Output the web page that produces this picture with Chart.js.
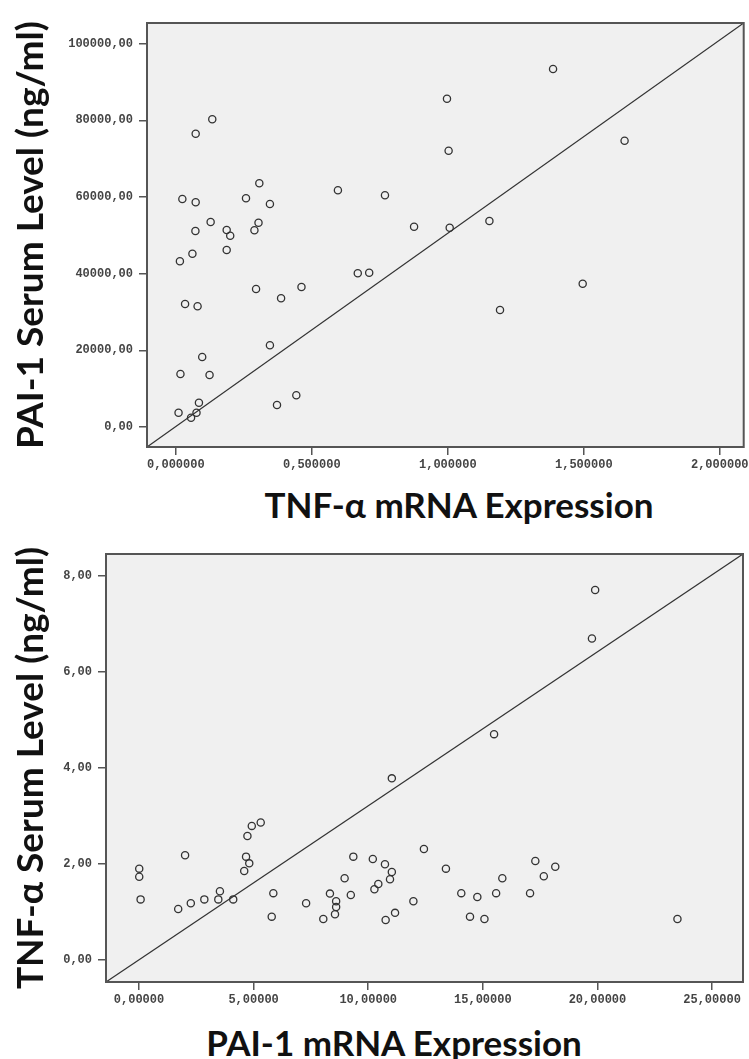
<!DOCTYPE html>
<html lang="en">
<head>
<meta charset="UTF-8">
<title>PAI-1 / TNF-α scatter plots</title>
<script src="https://cdn.jsdelivr.net/npm/chart.js"></script>
<style>
    html, body {
        margin: 0;
        padding: 0;
        background: #fff;
        overflow: hidden;
    }
    .wrap {
        position: absolute;
        left: 0;
    }
    .ttl {
        position: absolute;
        white-space: nowrap;
        font-family: "Lato", "Open Sans", sans-serif;
        font-weight: bold;
        line-height: 1;
        color: #111;
        transform: translate(-50%, -50%);
    }
    .ttl.rot {
        transform: translate(-50%, -50%) rotate(-90deg);
    }
</style>
</head>
<body>
<div class="wrap" style="top:0"><canvas id="top" width="749" height="470"></canvas></div>
<div class="wrap" style="top:530px"><canvas id="bottom" width="749" height="475"></canvas></div>

<div class="ttl rot" style="left:28px; top:235px; font-size:37px">PAI-1 Serum Level (ng/ml)</div>
<div class="ttl" style="left:459px; top:504px; font-size:35px">TNF-α mRNA Expression</div>
<div class="ttl rot" style="left:28px; top:768px; font-size:37px">TNF-α Serum Level (ng/ml)</div>
<div class="ttl" style="left:394px; top:1042px; font-size:35px">PAI-1 mRNA Expression</div>

<script>
// top plot: TNF-a mRNA expression (x) vs PAI-1 serum level (y)
const tnfExpr = [0.134, 0.073, 0.307, 0.024, 0.073, 0.258, 0.346, 0.596, 0.769, 0.128, 0.072,
    0.187, 0.200, 0.289, 0.304, 0.187, 0.015, 0.061, 0.034, 0.080, 0.295, 0.387, 0.462, 0.669,
    0.711, 0.346, 0.097, 0.017, 0.124, 0.085, 0.010, 0.076, 0.056, 0.372, 0.443, 1.387, 0.997,
    1.003, 1.650, 0.876, 1.007, 1.153, 1.192, 1.496];
const pai1Serum = [80250, 76490, 63560, 59460, 58600, 59650, 58160, 61730, 60430, 53460, 51120,
    51380, 49890, 51300, 53280, 46160, 43220, 45200, 32080, 31480, 35990, 33570, 36510, 40090,
    40240, 21310, 18260, 13820, 13560, 6340, 3730, 3730, 2430, 5740, 8270, 93370, 85620,
    72060, 74670, 52240, 51980, 53730, 30510, 37370];
const topXTicks = [0, 0.5, 1, 1.5, 2];
const topYTicks = [0, 20000, 40000, 60000, 80000, 100000];
const topXRange = [-0.106, 2.088];
const topYRange = [-5216, 105363];

// bottom plot: PAI-1 mRNA expression (x) vs TNF-a serum level (y)
const pai1Expr = [0.01, 0.01, 0.07, 2.01, 1.71, 2.26, 2.85, 3.53, 3.46, 4.11, 4.67, 4.59, 4.81,
    4.73, 4.92, 5.31, 5.86, 5.79, 7.29, 8.04, 8.55, 8.33, 8.60, 8.60, 8.97, 9.24, 9.35, 10.20,
    10.27, 10.44, 10.73, 11.03, 10.95, 10.76, 11.17, 11.03, 15.49, 12.43, 13.39, 11.97, 14.06,
    14.76, 14.44, 15.07, 15.58, 15.85, 17.06, 17.29, 17.66, 18.16, 23.49, 19.90, 19.76];
const tnfSerum = [1.90, 1.73, 1.26, 2.18, 1.06, 1.18, 1.26, 1.43, 1.26, 1.26, 2.15, 1.85, 2.01,
    2.58, 2.79, 2.86, 1.39, 0.90, 1.18, 0.85, 0.95, 1.38, 1.22, 1.10, 1.70, 1.35, 2.15, 2.10,
    1.47, 1.58, 1.99, 1.83, 1.68, 0.83, 0.98, 3.78, 4.70, 2.31, 1.90, 1.22, 1.39, 1.31, 0.90,
    0.85, 1.39, 1.70, 1.39, 2.06, 1.74, 1.94, 0.85, 7.70, 6.69];
const botXTicks = [0, 5, 10, 15, 20, 25];
const botYTicks = [0, 2, 4, 6, 8];
const botXRange = [-1.44, 26.35];
const botYRange = [-0.46, 8.45];

// grey plot background + dark frame, like the SPSS output
const framePlugin = {
    id: 'frame',
    beforeDraw(chart) {
        const a = chart.chartArea, ctx = chart.ctx;
        ctx.save();
        ctx.fillStyle = '#f0f0f0';
        ctx.fillRect(a.left, a.top, a.right - a.left, a.bottom - a.top);
        ctx.restore();
    },
    afterDraw(chart) {
        const a = chart.chartArea, ctx = chart.ctx;
        ctx.save();
        ctx.strokeStyle = '#555';
        ctx.lineWidth = 2;
        ctx.strokeRect(a.left, a.top, a.right - a.left, a.bottom - a.top);
        ctx.restore();
    }
};

function makeChart(id, xs, ys, xRange, yRange, xTicks, yTicks, xDigits, yDigits, yWidth, pad) {
    const pts = xs.map((x, i) => ({ x: x, y: ys[i] }));
    const tickFont = { family: '"Liberation Mono", "Courier New", monospace', size: 12, weight: 'bold' };
    const gridOpts = { drawOnChartArea: false, drawTicks: true, tickLength: 8, color: '#555', lineWidth: 1.5 };

    return new Chart(document.getElementById(id), {
        type: 'scatter',
        data: {
            datasets: [{
                data: pts,
                pointStyle: 'circle',
                pointRadius: 3.6,
                borderWidth: 1.3,
                borderColor: '#333',
                backgroundColor: 'rgba(0,0,0,0)'
            }, {
                // reference line from corner to corner of the plot
                data: [{ x: xRange[0], y: yRange[0] }, { x: xRange[1], y: yRange[1] }],
                showLine: true,
                pointRadius: 0,
                borderWidth: 1.2,
                borderColor: '#333'
            }]
        },
        options: {
            responsive: false,
            animation: false,
            layout: { padding: pad },
            plugins: { legend: { display: false }, tooltip: { enabled: false } },
            scales: {
                x: {
                    type: 'linear',
                    min: xRange[0],
                    max: xRange[1],
                    border: { display: false },
                    grid: gridOpts,
                    afterBuildTicks: s => { s.ticks = xTicks.map(v => ({ value: v })); },
                    afterFit: s => { s.height = 23; s.paddingLeft = 0; s.paddingRight = 0; },
                    ticks: {
                        autoSkip: false,
                        maxRotation: 0,
                        padding: 3,
                        color: '#444',
                        font: tickFont,
                        callback: v => v.toFixed(xDigits).replace('.', ',')
                    }
                },
                y: {
                    type: 'linear',
                    min: yRange[0],
                    max: yRange[1],
                    border: { display: false },
                    grid: gridOpts,
                    afterBuildTicks: s => { s.ticks = yTicks.map(v => ({ value: v })); },
                    afterFit: s => { s.width = yWidth; s.paddingTop = 0; s.paddingBottom = 0; },
                    ticks: {
                        autoSkip: false,
                        padding: 6,
                        color: '#444',
                        font: tickFont,
                        callback: v => v.toFixed(yDigits).replace('.', ',')
                    }
                }
            }
        },
        plugins: [framePlugin]
    });
}

makeChart('top', tnfExpr, pai1Serum, topXRange, topYRange, topXTicks, topYTicks, 6, 2, 147,
    { top: 23, right: 1, left: 0, bottom: 0 });
makeChart('bottom', pai1Expr, tnfSerum, botXRange, botYRange, botXTicks, botYTicks, 5, 2, 106,
    { top: 24, right: 6, left: 0, bottom: 0 });
</script>
</body>
</html>
